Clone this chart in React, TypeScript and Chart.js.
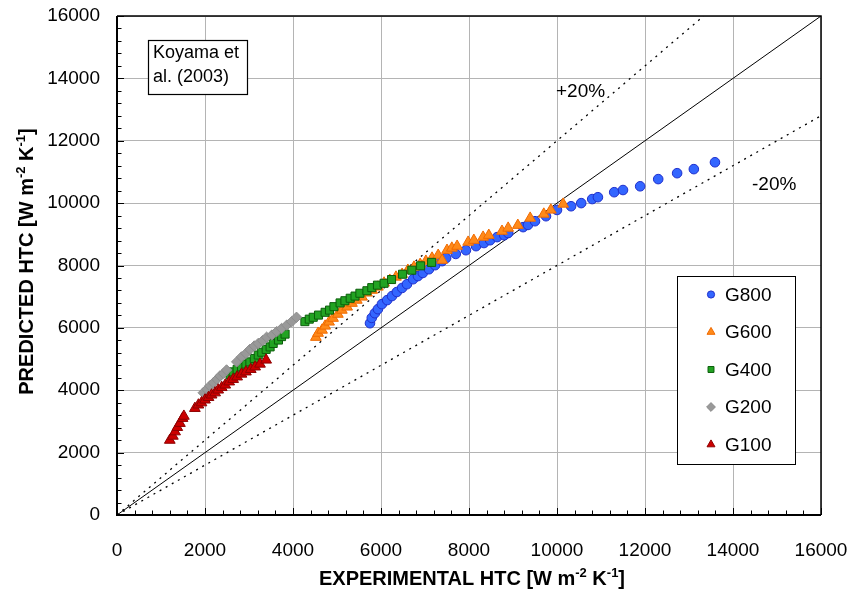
import React, { useEffect, useRef } from "react";
import { Chart, registerables } from "chart.js";
import { drawPoint } from "chart.js/helpers";

Chart.register(...registerables);

const FONT = "'Liberation Sans', Arial, sans-serif";

// Axis configuration (values)
const AXIS_MIN = 0;
const AXIS_MAX = 16000;
const MAJOR_STEP = 2000;
const MINOR_STEP = 400;

// Series
const SERIES_NAMES = ["G800", "G600", "G400", "G200", "G100"];

const G800_X = [5750, 5790, 5860, 5930, 6020, 6140, 6250, 6360, 6480, 6590, 6730, 6840, 6950, 7090, 7230, 7390, 7480, 7700, 7930, 8160, 8340, 8480, 8640, 8800, 8890, 9230, 9340, 9500, 9750, 10000, 10320, 10550, 10800, 10930, 11300, 11500, 11890, 12300, 12730, 13110, 13590];
const G800_Y = [6150, 6320, 6470, 6600, 6760, 6890, 7020, 7150, 7280, 7400, 7560, 7660, 7760, 7880, 8010, 8140, 8240, 8370, 8490, 8620, 8720, 8810, 8910, 8970, 9040, 9230, 9300, 9420, 9580, 9780, 9900, 10000, 10130, 10190, 10350, 10420, 10540, 10770, 10960, 11090, 11310];

const G600_X = [4520, 4570, 4660, 4730, 4820, 4910, 5020, 5110, 5230, 5340, 5450, 5570, 5680, 5800, 5930, 6070, 6200, 6340, 6480, 6610, 6750, 6890, 7020, 7160, 7300, 7390, 7500, 7610, 7730, 7980, 8110, 8320, 8450, 8750, 8890, 9110, 9390, 9700, 9860, 10140];
const G600_Y = [5700, 5830, 5930, 6060, 6190, 6310, 6440, 6570, 6670, 6790, 6890, 6990, 7120, 7210, 7310, 7440, 7530, 7630, 7720, 7850, 7950, 8040, 8140, 8240, 8330, 8170, 8490, 8560, 8620, 8750, 8810, 8910, 8970, 9100, 9200, 9290, 9520, 9650, 9780, 9970];

const G400_X = [2570, 2640, 2730, 2830, 2930, 3020, 3120, 3210, 3290, 3390, 3480, 3550, 3670, 3740, 3820, 4270, 4370, 4460, 4580, 4730, 4830, 4930, 5070, 5180, 5300, 5410, 5520, 5680, 5790, 5920, 6070, 6240, 6490, 6700, 6900, 7150];
const G400_Y = [4490, 4590, 4670, 4750, 4840, 4910, 5020, 5130, 5220, 5310, 5390, 5500, 5610, 5720, 5800, 6200, 6280, 6340, 6410, 6500, 6570, 6680, 6800, 6870, 6950, 7020, 7110, 7190, 7290, 7370, 7430, 7550, 7720, 7850, 7990, 8100];

const G200_X = [1960, 2040, 2110, 2190, 2270, 2340, 2420, 2490, 2720, 2830, 2930, 3020, 3120, 3210, 3310, 3400, 3520, 3630, 3740, 3860, 3970, 4080];
const G200_Y = [3920, 4030, 4140, 4240, 4350, 4460, 4540, 4650, 4910, 5070, 5180, 5310, 5420, 5500, 5590, 5700, 5770, 5880, 5980, 6090, 6200, 6340];

const G100_X = [1200, 1270, 1320, 1370, 1430, 1490, 1520, 1770, 1850, 1920, 2000, 2080, 2150, 2230, 2300, 2380, 2460, 2550, 2640, 2730, 2830, 2930, 3040, 3140, 3250, 3390];
const G100_Y = [2400, 2530, 2670, 2810, 2940, 3100, 3170, 3420, 3530, 3600, 3690, 3770, 3850, 3920, 4010, 4090, 4170, 4270, 4350, 4430, 4520, 4590, 4670, 4750, 4840, 4970];

// Reference lines: parity and +/-20 %
const PARITY_X = [0, 16000];
const PARITY_Y = [0, 16000];
const PLUS20_X = [0, 13333];
const PLUS20_Y = [0, 16000];
const MINUS20_X = [0, 16000];
const MINUS20_Y = [0, 12800];

const NOTE_LINES = ["Koyama et", "al. (2003)"];
const PLUS_LABEL = "+20%";
const MINUS_LABEL = "-20%";

const pts = (xs: number[], ys: number[]) => xs.map((x, i) => ({ x, y: ys[i] }));

const STYLES = [
  { pointStyle: "circle", radius: 4.8, legendRadius: 3.6, fill: "#3366FF", stroke: "#1F2FCC" },
  { pointStyle: "triangle", radius: 6.2, legendRadius: 4.6, fill: "#FF8A1A", stroke: "#F06A00" },
  { pointStyle: "rect", radius: 5.7, legendRadius: 4.2, fill: "#22A322", stroke: "#0B5E0B" },
  { pointStyle: "rectRot", radius: 5.2, legendRadius: 4.4, fill: "#999999", stroke: "#8C8C8C" },
  { pointStyle: "triangle", radius: 6.2, legendRadius: 4.6, fill: "#CC0000", stroke: "#8E0000" },
];

type Part = [string, boolean];

function drawRich(ctx: CanvasRenderingContext2D, parts: Part[], cx: number, baseline: number, baseFont: string, supFont: string, supRaise: number) {
  const widths: number[] = [];
  let total = 0;
  parts.forEach(([t, sup]) => {
    ctx.font = sup ? supFont : baseFont;
    const w = ctx.measureText(t).width;
    widths.push(w);
    total += w;
  });
  let x = cx - total / 2;
  ctx.textAlign = "left";
  ctx.textBaseline = "alphabetic";
  parts.forEach(([t, sup], i) => {
    ctx.font = sup ? supFont : baseFont;
    ctx.fillText(t, x, baseline - (sup ? supRaise : 0));
    x += widths[i];
  });
}

const X_TITLE: Part[] = [["EXPERIMENTAL HTC [W m", false], ["-2", true], [" K", false], ["-1", true], ["]", false]];
const Y_TITLE: Part[] = [["PREDICTED HTC [W m", false], ["-2", true], [" K", false], ["-1", true], ["]", false]];

const decorPlugin = {
  id: "decor",
  beforeDatasetsDraw(chart: any) {
    const { ctx, chartArea: a, scales } = chart;
    const xs = scales.x;
    const ys = scales.y;
    ctx.save();
    ctx.strokeStyle = "#000";
    ctx.lineWidth = 1;
    for (let v = AXIS_MIN; v <= AXIS_MAX; v += MINOR_STEP) {
      const major = v % MAJOR_STEP === 0;
      const len = major ? 7 : 4.5;
      const px = Math.round(xs.getPixelForValue(v)) + 0.5;
      ctx.beginPath();
      ctx.moveTo(px, a.bottom);
      ctx.lineTo(px, a.bottom - len);
      ctx.stroke();
      const py = Math.round(ys.getPixelForValue(v)) + 0.5;
      ctx.beginPath();
      ctx.moveTo(a.left, py);
      ctx.lineTo(a.left + len, py);
      ctx.stroke();
    }
    ctx.lineWidth = 1.5;
    ctx.beginPath();
    ctx.moveTo(a.left, a.top);
    ctx.lineTo(a.right, a.top);
    ctx.lineTo(a.right, a.bottom);
    ctx.stroke();
    ctx.lineWidth = 2;
    ctx.beginPath();
    ctx.moveTo(a.left, a.top);
    ctx.lineTo(a.left, a.bottom);
    ctx.lineTo(a.right, a.bottom);
    ctx.stroke();
    ctx.restore();
  },
  afterDraw(chart: any) {
    const { ctx, chartArea: a } = chart;
    ctx.save();
    ctx.fillStyle = "#000";
    const midX = (a.left + a.right) / 2;
    const midY = (a.top + a.bottom) / 2;

    drawRich(ctx, X_TITLE, midX + 3, a.bottom + 70, `bold 20px ${FONT}`, `bold 13px ${FONT}`, 8);
    ctx.save();
    ctx.translate(a.left - 84, midY - 4);
    ctx.rotate(-Math.PI / 2);
    drawRich(ctx, Y_TITLE, 0, 0, `bold 20px ${FONT}`, `bold 13px ${FONT}`, 8);
    ctx.restore();

    const bx = a.left + 31, by = a.top + 24, bw = 99, bh = 54;
    ctx.fillStyle = "#fff";
    ctx.fillRect(bx, by, bw, bh);
    ctx.strokeStyle = "#000";
    ctx.lineWidth = 1.2;
    ctx.strokeRect(bx + 0.5, by + 0.5, bw, bh);
    ctx.fillStyle = "#000";
    ctx.font = `18px ${FONT}`;
    ctx.textAlign = "left";
    ctx.textBaseline = "middle";
    ctx.fillText(NOTE_LINES[0], bx + 5, by + 13);
    ctx.fillText(NOTE_LINES[1], bx + 5, by + 37);

    ctx.font = `19px ${FONT}`;
    ctx.fillText(PLUS_LABEL, a.left + 439, a.top + 76);
    ctx.fillText(MINUS_LABEL, a.left + 635, a.top + 169);

    const lx = a.left + 560, ly = a.top + 260, lw = 118, lh = 188;
    ctx.fillStyle = "#fff";
    ctx.fillRect(lx, ly, lw, lh);
    ctx.lineWidth = 1;
    ctx.strokeStyle = "#000";
    ctx.strokeRect(lx + 0.5, ly + 0.5, lw, lh);
    SERIES_NAMES.forEach((name, i) => {
      const st = STYLES[i];
      const cy = ly + 18.5 + i * 37.5;
      ctx.fillStyle = st.fill;
      ctx.strokeStyle = st.stroke;
      ctx.lineWidth = 1;
      drawPoint(ctx, { pointStyle: st.pointStyle as any, rotation: 0, radius: st.legendRadius, borderWidth: 1 }, lx + 34, cy);
      ctx.fillStyle = "#000";
      ctx.font = `19px ${FONT}`;
      ctx.textAlign = "left";
      ctx.textBaseline = "middle";
      ctx.fillText(name, lx + 48, cy + 1);
    });
    ctx.restore();
  },
};

export default function App() {
  const ref = useRef<HTMLCanvasElement | null>(null);

  useEffect(() => {
    document.body.style.margin = "0";
    const canvas = ref.current;
    if (!canvas) return;
    const seriesData = [
      pts(G800_X, G800_Y),
      pts(G600_X, G600_Y),
      pts(G400_X, G400_Y),
      pts(G200_X, G200_Y),
      pts(G100_X, G100_Y),
    ];
    const scatterSets = SERIES_NAMES.map((name, i) => ({
      label: name,
      data: seriesData[i],
      pointStyle: STYLES[i].pointStyle,
      pointRadius: STYLES[i].radius,
      backgroundColor: STYLES[i].fill,
      borderColor: STYLES[i].stroke,
      borderWidth: 1,
      showLine: false,
      order: 10 - i,
    }));
    const lineBase = {
      showLine: true,
      pointRadius: 0,
      borderColor: "#000",
      borderWidth: 1,
      fill: false,
      order: 20,
    };
    const fmt = (v: any) => String(v);
    const chart = new Chart(canvas, {
      type: "scatter",
      data: {
        datasets: [
          ...scatterSets,
          { ...lineBase, label: "1:1", data: pts(PARITY_X, PARITY_Y) },
          { ...lineBase, label: "+20%", data: pts(PLUS20_X, PLUS20_Y), borderWidth: 1.3, borderDash: [2, 5] },
          { ...lineBase, label: "-20%", data: pts(MINUS20_X, MINUS20_Y), borderWidth: 1.3, borderDash: [2, 5] },
        ] as any,
      },
      options: {
        responsive: false,
        animation: false,
        devicePixelRatio: 1,
        events: [],
        layout: { padding: { top: 16, right: 28, left: 0, bottom: 0 } },
        plugins: { legend: { display: false }, tooltip: { enabled: false } },
        scales: {
          x: {
            type: "linear",
            min: AXIS_MIN,
            max: AXIS_MAX,
            afterFit: (s: any) => { s.height = 83; },
            ticks: { stepSize: MAJOR_STEP, color: "#000", font: { family: FONT, size: 19 }, padding: 0, maxRotation: 0, callback: fmt },
            grid: { color: "#B4B4B4", lineWidth: 1, drawTicks: true, tickLength: 24, tickColor: "rgba(0,0,0,0)" },
            border: { display: false },
          },
          y: {
            type: "linear",
            min: AXIS_MIN,
            max: AXIS_MAX,
            afterFit: (s: any) => { s.width = 117; },
            ticks: { stepSize: MAJOR_STEP, color: "#000", font: { family: FONT, size: 19 }, padding: 0, callback: fmt },
            grid: { color: "#B4B4B4", lineWidth: 1, drawTicks: true, tickLength: 17, tickColor: "rgba(0,0,0,0)" },
            border: { display: false },
          },
        },
      },
      plugins: [decorPlugin],
    });
    return () => chart.destroy();
  }, []);

  return <canvas ref={ref} width={849} height={598} style={{ display: "block" }} />;
}
